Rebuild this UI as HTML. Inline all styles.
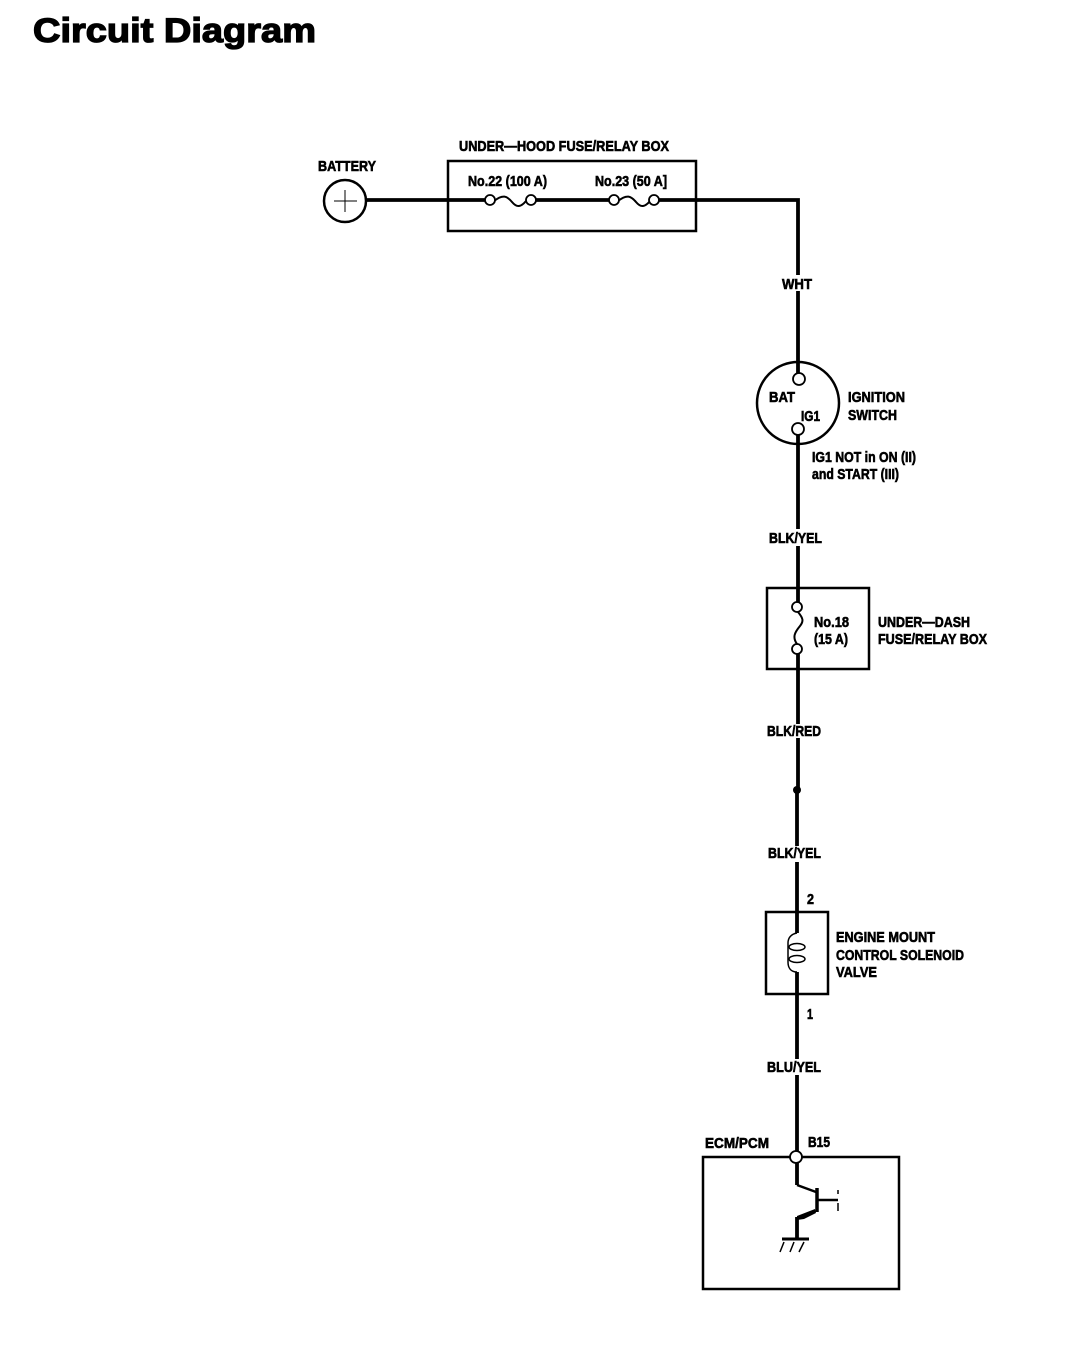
<!DOCTYPE html>
<html><head><meta charset="utf-8"><style>
html,body{margin:0;padding:0;background:#fff}
svg{display:block}
text{font-family:"Liberation Sans",sans-serif;font-weight:bold;fill:#000;stroke:#000;stroke-width:.6px}
</style></head><body>
<svg width="1088" height="1354" viewBox="0 0 1088 1354" xmlns="http://www.w3.org/2000/svg">
<rect width="1088" height="1354" fill="#fff"/>
<text x="33" y="42" font-size="34" textLength="283" lengthAdjust="spacingAndGlyphs" style="stroke-width:1.3px">Circuit Diagram</text>

<g fill="none" stroke="#000" stroke-width="2.5">
<rect x="448" y="161" width="248" height="70"/>
<rect x="767" y="588" width="102" height="81"/>
<rect x="766" y="912" width="62" height="82"/>
<rect x="703" y="1157" width="196" height="132"/>
<circle cx="345" cy="201" r="21"/>
<circle cx="798" cy="403" r="41"/>
</g>
<g stroke="#000" stroke-width="1" fill="none"><path d="M334 201H357M345 190V212"/></g>

<g fill="none" stroke="#000" stroke-width="3.8">
<path d="M366 200H485M536 200H609M659 200H798V275M798 291V375"/>
<path d="M798 434V529M798 546V602M798 654V724M798 738V790"/>
<path d="M797 790V846M797 862V933M797 972V1059M797 1075V1152"/>
<path d="M797 1163V1185"/>
<path d="M797 1217V1239"/>
</g>
<g fill="none" stroke="#000" stroke-width="2.5">
<path d="M797 1185L816 1192"/>
<path d="M817 1200H838"/>
</g>
<g fill="none" stroke="#000" stroke-width="3.5">
<path d="M817 1188V1212"/>
</g>
<path d="M782 1239H809" stroke="#000" stroke-width="3" fill="none"/>
<path d="M815 1209L797 1216V1220L804 1219L816 1213Z" fill="#000"/>
<g fill="none" stroke="#000" stroke-width="1.5">
<path d="M838 1190V1194M838 1203V1211"/>
<path d="M784 1242L780 1252M794 1242L790 1252M804 1242L799 1252"/>
</g>
<g fill="none" stroke="#000" stroke-width="2">
<path d="M494 201C503 194 507 196 512 202C517 208 521 207 526 201"/>
<path d="M618 201C627 194 631 196 636 202C641 208 645 207 650 201"/>
<path d="M798 612C803 618 804 621 800 626C795 632 792 637 797 644"/>
</g>
<g fill="none" stroke="#000" stroke-width="1.5">
<path d="M797 933C791 934 788 938 788 943V962C788 968 791 972 797 972"/>
<ellipse cx="797" cy="947" rx="8" ry="3.5"/>
<ellipse cx="797" cy="959" rx="8" ry="3.5"/>
</g>
<g fill="#fff" stroke="#000" stroke-width="1.8">
<circle cx="490" cy="200" r="5"/><circle cx="531" cy="200" r="5"/>
<circle cx="614" cy="200" r="5"/><circle cx="654" cy="200" r="5"/>
<circle cx="799" cy="379" r="6"/><circle cx="798" cy="429" r="6"/>
<circle cx="797" cy="607" r="5"/><circle cx="797" cy="649" r="5"/>
<circle cx="796" cy="1157" r="6"/>
</g>
<circle cx="797" cy="790" r="4" fill="#000"/>

<g font-size="14.5">
<text x="459" y="151" textLength="210" lengthAdjust="spacingAndGlyphs">UNDER—HOOD FUSE/RELAY BOX</text>
<text x="318" y="171" textLength="58" lengthAdjust="spacingAndGlyphs">BATTERY</text>
<text x="468" y="186" textLength="79" lengthAdjust="spacingAndGlyphs">No.22 (100 A)</text>
<text x="595" y="186" textLength="72" lengthAdjust="spacingAndGlyphs">No.23 (50 A]</text>
<text x="782" y="289" textLength="30" lengthAdjust="spacingAndGlyphs">WHT</text>
<text x="769" y="402" textLength="26" lengthAdjust="spacingAndGlyphs">BAT</text>
<text x="801" y="421" textLength="19" lengthAdjust="spacingAndGlyphs">IG1</text>
<text x="848" y="402" textLength="57" lengthAdjust="spacingAndGlyphs">IGNITION</text>
<text x="848" y="420" textLength="49" lengthAdjust="spacingAndGlyphs">SWITCH</text>
<text x="812" y="462" textLength="104" lengthAdjust="spacingAndGlyphs">IG1 NOT in ON (II)</text>
<text x="812" y="479" textLength="87" lengthAdjust="spacingAndGlyphs">and START (III)</text>
<text x="769" y="543" textLength="53" lengthAdjust="spacingAndGlyphs">BLK/YEL</text>
<text x="814" y="627" textLength="35" lengthAdjust="spacingAndGlyphs">No.18</text>
<text x="814" y="644" textLength="34" lengthAdjust="spacingAndGlyphs">(15 A)</text>
<text x="878" y="627" textLength="92" lengthAdjust="spacingAndGlyphs">UNDER—DASH</text>
<text x="878" y="644" textLength="109" lengthAdjust="spacingAndGlyphs">FUSE/RELAY BOX</text>
<text x="767" y="736" textLength="54" lengthAdjust="spacingAndGlyphs">BLK/RED</text>
<text x="768" y="858" textLength="53" lengthAdjust="spacingAndGlyphs">BLK/YEL</text>
<text x="807" y="904" textLength="7" lengthAdjust="spacingAndGlyphs">2</text>
<text x="836" y="942" textLength="99" lengthAdjust="spacingAndGlyphs">ENGINE MOUNT</text>
<text x="836" y="960" textLength="128" lengthAdjust="spacingAndGlyphs">CONTROL SOLENOID</text>
<text x="836" y="977" textLength="41" lengthAdjust="spacingAndGlyphs">VALVE</text>
<text x="807" y="1019" textLength="6" lengthAdjust="spacingAndGlyphs">1</text>
<text x="767" y="1072" textLength="54" lengthAdjust="spacingAndGlyphs">BLU/YEL</text>
<text x="705" y="1148" textLength="64" lengthAdjust="spacingAndGlyphs">ECM/PCM</text>
<text x="808" y="1147" textLength="22" lengthAdjust="spacingAndGlyphs">B15</text>
</g>
</svg>
</body></html>
